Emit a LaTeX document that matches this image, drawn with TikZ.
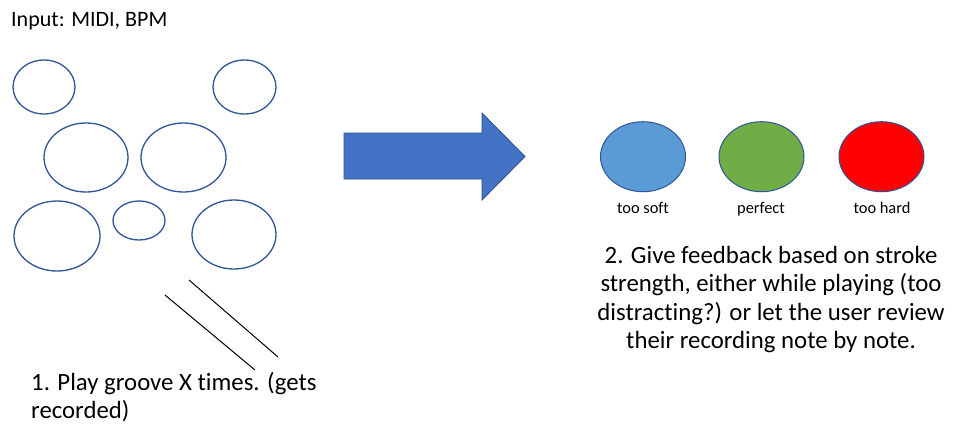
\documentclass[tikz,border=0pt]{standalone}
\usepackage{fontspec}
\setmainfont{Carlito}[Ligatures={NoCommon}]
\usetikzlibrary{shapes.geometric}
\definecolor{drumline}{HTML}{2F5597}
\definecolor{arrowblue}{HTML}{4472C4}
\definecolor{arrowedge}{HTML}{2F528F}
\definecolor{softblue}{HTML}{5B9BD5}
\definecolor{perfgreen}{HTML}{70AD47}
\definecolor{hardred}{HTML}{FF0000}
\begin{document}
\begin{tikzpicture}[x=1pt,y=-1pt,
  drum/.style={draw=drumline,line width=1.3pt,ellipse,inner sep=0pt},
  fb/.style={draw=drumline,line width=1pt,ellipse,inner sep=0pt,minimum width=85pt,minimum height=70pt},
  lbl/.style={font=\fontsize{16.4}{19}\selectfont,anchor=base,inner sep=0pt},
  bigtext/.style={font=\fontsize{24.8}{28.5}\selectfont,inner sep=0pt},
  stroke/.style={line width=1pt,black}]
\useasboundingbox (0,0) rectangle (960,424);
\fill[white] (0,0) rectangle (960,424);
% title
\node[font=\fontsize{22}{26}\selectfont,anchor=base west,inner sep=0pt] (title) at (11,26.5) {Input: MIDI, BPM};
% drum kit
\node[drum,minimum width=62pt,minimum height=54pt] (d1) at (44,87) {};
\node[drum,minimum width=63pt,minimum height=54pt] (d2) at (244.5,87) {};
\node[drum,minimum width=84pt,minimum height=69pt] (d3) at (86,157.5) {};
\node[drum,minimum width=85pt,minimum height=69pt] (d4) at (183.5,157.5) {};
\node[drum,minimum width=86pt,minimum height=70pt] (d5) at (57,236) {};
\node[drum,minimum width=52pt,minimum height=39pt] (d6) at (139,220.5) {};
\node[drum,minimum width=84pt,minimum height=69pt] (d7) at (234,234.5) {};
% sticks
\coordinate (s1a) at (165,295);
\coordinate (s1b) at (255,370);
\coordinate (s2a) at (189,280);
\coordinate (s2b) at (278,357);
\draw[stroke] (s1a) -- (s1b);
\draw[stroke] (s2a) -- (s2b);
% text 1
\node[bigtext,anchor=north west,align=left] (t1) at (31,372) {1. Play groove X times. (gets\\recorded)};
% big arrow
\draw[fill=arrowblue,draw=arrowedge,line width=0.8pt]
  (344,133) -- (482,133) -- (482,113) -- (525,156.5) -- (482,200) -- (482,179) -- (344,179) -- cycle;
% feedback circles
\node[fb,fill=softblue] (soft) at (643,156.7) {};
\node[fb,fill=perfgreen] (perf) at (761.5,156.7) {};
\node[fb,fill=hardred] (hard) at (881.5,156.7) {};
\node[lbl] (lsoft) at (643,213) {too soft};
\node[lbl] (lperf) at (761,213) {perfect};
\node[lbl] (lhard) at (882,213) {too hard};
% text 2
\node[bigtext,anchor=north,align=center] (t2) at (771,246) {2. Give feedback based on stroke\\strength, either while playing (too\\distracting?) or let the user review\\their recording note by note.};
\end{tikzpicture}
\end{document}
